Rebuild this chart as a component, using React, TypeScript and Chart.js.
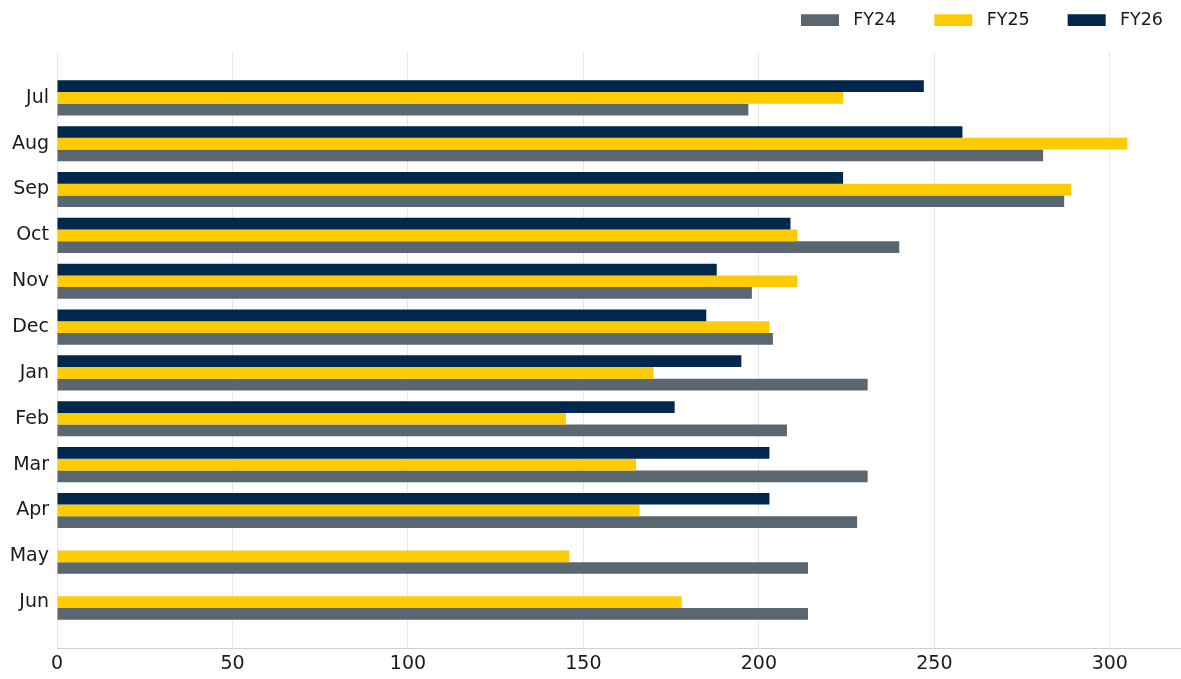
import React, { useEffect, useRef } from "react";
import { Chart, registerables } from "chart.js";

Chart.register(...registerables);

const months = ["Jul", "Aug", "Sep", "Oct", "Nov", "Dec", "Jan", "Feb", "Mar", "Apr", "May", "Jun"];
const fy24 = [197, 281, 287, 240, 198, 204, 231, 208, 231, 228, 214, 214];
const fy25 = [224, 305, 289, 211, 211, 203, 170, 145, 165, 166, 146, 178];
const fy26: (number | null)[] = [247, 258, 224, 209, 188, 185, 195, 176, 203, 203, null, null];
const xTicks = [0, 50, 100, 150, 200, 250, 300];

const FONT = "'DejaVu Sans', sans-serif";

export default function App() {
  const ref = useRef<HTMLCanvasElement | null>(null);

  useEffect(() => {
    if (!ref.current) return;
    // pad the category axis with one empty slot on each end (matplotlib-like margins)
    const labels = ["", ...months, ""];
    const pad = (arr: (number | null)[]) => [null, ...arr, null];

    const layoutPlugin = {
      id: "legendLayout",
      beforeLayout(chart: any) {
        const lg = chart.legend;
        if (lg && !lg.__patched) {
          const orig = lg.fit.bind(lg);
          lg.fit = function () {
            orig();
            this.height = 52;
          };
          lg.__patched = true;
        }
      },
      afterLayout(chart: any) {
        const lg = chart.legend;
        if (lg) {
          const h = lg.height;
          lg.top = -26;
          lg.bottom = lg.top + h;
          lg.left += 21;
          lg.right += 21;
        }
      },
    };

    const chart = new Chart(ref.current, {
      type: "bar",
      data: {
        labels,
        datasets: [
          { label: " FY26", data: pad(fy26), backgroundColor: "#00274c" },
          { label: " FY25", data: pad(fy25), backgroundColor: "#ffcb05" },
          { label: " FY24", data: pad(fy24), backgroundColor: "#5b6770" },
        ],
      },
      options: {
        indexAxis: "y",
        animation: false,
        responsive: false,
        maintainAspectRatio: false,
        datasets: {
          bar: { categoryPercentage: 0.766, barPercentage: 1, borderWidth: 0 },
        },
        layout: { padding: { left: 0, right: 1, top: 0, bottom: 0 } },
        plugins: {
          legend: {
            display: true,
            position: "top",
            align: "end",
            reverse: true,
            labels: {
              boxWidth: 38,
              boxHeight: 13,
              padding: 38,
              color: "#1a1a1a",
              font: { family: FONT, size: 17.5 },
            },
          },
          tooltip: { enabled: false },
        },
        scales: {
          x: {
            type: "linear",
            min: 0,
            max: 320,
            afterBuildTicks: (scale: any) => {
              scale.ticks = xTicks.map((v) => ({ value: v }));
            },
            afterFit: (scale: any) => {
              scale.height = 31;
            },
            grid: { color: "#e6e6e6", lineWidth: 1, drawTicks: false },
            border: { display: true, color: "#cfcfcf", width: 1 },
            ticks: {
              padding: 5,
              color: "#1a1a1a",
              font: { family: FONT, size: 19 },
              maxRotation: 0,
            },
          },
          y: {
            type: "category",
            offset: false,
            afterFit: (scale: any) => {
              scale.width = 57;
            },
            grid: { display: false, drawTicks: false },
            border: { display: false },
            ticks: {
              padding: 8,
              color: "#1a1a1a",
              autoSkip: false,
              font: { family: FONT, size: 19 },
            },
          },
        },
      },
      plugins: [layoutPlugin],
    } as any);

    return () => chart.destroy();
  }, []);

  return (
    <div style={{ position: "fixed", left: 0, top: 0, width: 1181, height: 679, background: "#ffffff" }}>
      <canvas ref={ref} width={1181} height={679} style={{ width: 1181, height: 679, display: "block" }} />
    </div>
  );
}
